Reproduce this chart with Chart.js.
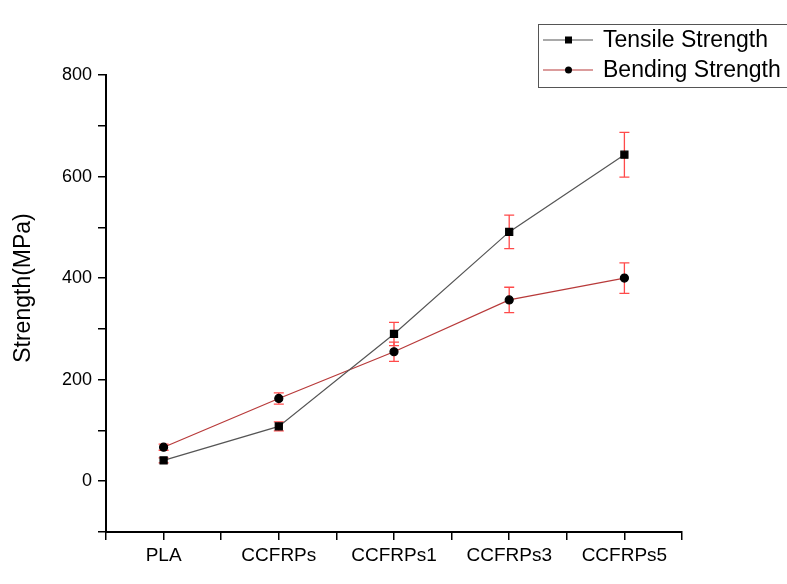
<!DOCTYPE html>
<html>
<head>
<meta charset="utf-8">
<script src="https://cdn.jsdelivr.net/npm/chart.js@4.4.1/dist/chart.umd.min.js"></script>
<style>
  html, body { margin: 0; padding: 0; background: #fff; }
  #wrap { width: 787px; height: 584px; }
</style>
</head>
<body>
<div id="wrap"><canvas id="chart" width="787" height="584"></canvas></div>
<script>
// datos
const categorias = ["PLA", "CCFRPs", "CCFRPs1", "CCFRPs3", "CCFRPs5"];
const traccion = [41, 108, 290, 491, 643];
const traccionErr = [5, 9, 23, 33, 44];
const flexion = [67, 163, 255, 357, 400];
const flexionErr = [6, 11, 19, 25, 30];
const nombres = ["Tensile Strength", "Bending Strength"];
const tituloY = "Strength(MPa)";

const fuente = "'Liberation Sans', Arial, sans-serif";

// ----- barras de error -----
const barrasError = {
  id: "barrasError",
  beforeDatasetsDraw(chart) {
    const ctx = chart.ctx;
    const xs = chart.scales.x, ys = chart.scales.y;
    ctx.save();
    ctx.strokeStyle = "#ff4a4a";
    ctx.lineWidth = 1.3;
    chart.data.datasets.forEach(ds => {
      ds.data.forEach((p, i) => {
        const x = xs.getPixelForValue(p.x);
        const y1 = ys.getPixelForValue(p.y + ds.err[i]);
        const y2 = ys.getPixelForValue(p.y - ds.err[i]);
        ctx.beginPath();
        ctx.moveTo(x, y1); ctx.lineTo(x, y2);
        ctx.moveTo(x - 5, y1); ctx.lineTo(x + 5, y1);
        ctx.moveTo(x - 5, y2); ctx.lineTo(x + 5, y2);
        ctx.stroke();
      });
    });
    ctx.restore();
  }
};

// ----- leyenda con recuadro y titulo del eje -----
const leyenda = {
  id: "leyenda",
  afterDraw(chart) {
    const ctx = chart.ctx;
    ctx.save();
    ctx.strokeStyle = "#555";
    ctx.lineWidth = 1;
    ctx.strokeRect(538.5, 24.5, 260, 63);
    ctx.font = "23px " + fuente;
    ctx.textBaseline = "middle";
    chart.data.datasets.forEach((ds, i) => {
      const y = 40 + i * 30;
      ctx.strokeStyle = ds.borderColor;
      ctx.lineWidth = 1.2;
      ctx.beginPath();
      ctx.moveTo(543, y); ctx.lineTo(593, y);
      ctx.stroke();
      ctx.fillStyle = "#000";
      if (ds.pointStyle === "rect") {
        ctx.fillRect(565, y - 3.5, 7, 7);
      } else {
        ctx.beginPath();
        ctx.arc(568.5, y, 3.5, 0, Math.PI * 2);
        ctx.fill();
      }
      ctx.fillText(ds.label, 603, y + 1);
    });

    // titulo Y
    ctx.translate(24, 288);
    ctx.rotate(-Math.PI / 2);
    ctx.textAlign = "center";
    ctx.fillStyle = "#000";
    ctx.fillText(tituloY, 0, 0);
    ctx.restore();
  }
};

const ctx = document.getElementById("chart").getContext("2d");
new Chart(ctx, {
  type: "line",
  data: {
    datasets: [
      {
        label: nombres[0],
        data: traccion.map((v, i) => ({ x: i, y: v })),
        err: traccionErr,
        borderColor: "#555555",
        borderWidth: 1.2,
        pointStyle: "rect",
        pointRadius: 5,
        pointBackgroundColor: "#000",
        pointBorderColor: "#000",
        tension: 0
      },
      {
        label: nombres[1],
        data: flexion.map((v, i) => ({ x: i, y: v })),
        err: flexionErr,
        borderColor: "#b83a3a",
        borderWidth: 1.2,
        pointStyle: "circle",
        pointRadius: 4,
        pointBackgroundColor: "#000",
        pointBorderColor: "#000",
        tension: 0
      }
    ]
  },
  options: {
    responsive: false,
    animation: false,
    layout: { padding: { left: 0, right: 105, top: 75, bottom: 0 } },
    plugins: {
      legend: { display: false },
      tooltip: { enabled: false }
    },
    scales: {
      x: {
        type: "linear",
        min: -0.5,
        max: 4.5,
        afterFit: s => { s.height = 52; },
        afterBuildTicks: s => {
          s.ticks = [];
          for (let v = -0.5; v <= 4.5; v += 0.5) s.ticks.push({ value: v });
        },
        ticks: {
          autoSkip: false,
          maxRotation: 0,
          padding: 4,
          color: "#000",
          font: { family: fuente, size: 19 },
          callback: v => Number.isInteger(v) ? categorias[v] : ""
        },
        grid: { drawOnChartArea: false, drawTicks: true, tickLength: 8, color: "#000", lineWidth: 1.5 },
        border: { display: true, color: "#000", width: 2 }
      },
      y: {
        min: -100,
        max: 800,
        afterFit: s => { s.width = 106; },
        ticks: {
          stepSize: 100,
          padding: 6,
          color: "#000",
          font: { family: fuente, size: 18 },
          callback: v => v % 200 === 0 ? v : ""
        },
        grid: { drawOnChartArea: false, drawTicks: true, tickLength: 8, color: "#000", lineWidth: 1.5 },
        border: { display: true, color: "#000", width: 2 }
      }
    }
  },
  plugins: [barrasError, leyenda]
});
</script>
</body>
</html>
